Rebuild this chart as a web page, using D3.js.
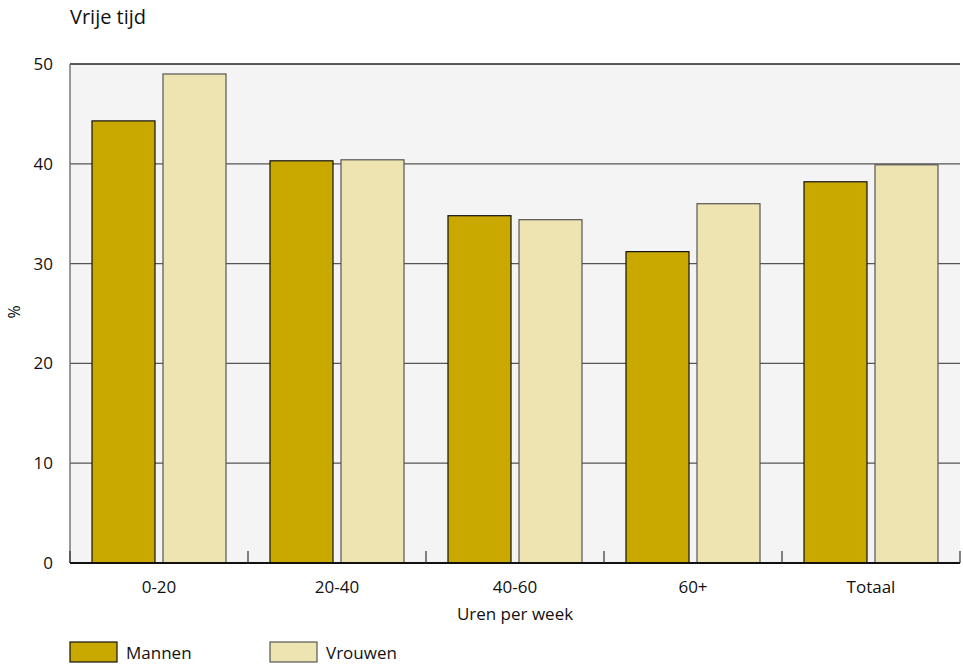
<!DOCTYPE html>
<html><head><meta charset="utf-8">
<script src="https://cdn.jsdelivr.net/npm/d3@7"></script>
<style>body{margin:0;background:#fff;} text{font-family:"Open Sans","Noto Sans",sans-serif;fill:#111;}</style>
</head><body>
<svg id="c" width="963" height="665"></svg>
<script>
const categories = ["0-20","20-40","40-60","60+","Totaal"];
const seriesNames = ["Mannen","Vrouwen"];
const mannen = [44.3, 40.3, 34.8, 31.2, 38.2];
const vrouwen = [49.0, 40.4, 34.4, 36.0, 39.9];
const yTicks = [0,10,20,30,40,50];
const colors = ["#C9A800","#EEE4B2"];
const strokes = ["#111","#555"];

const svg = d3.select("#c");
const L=70, R=960, T=64, B=563;
const x = d3.scaleBand().domain(categories).range([L,R]).paddingInner(0).paddingOuter(0);
const bw = x.bandwidth();
const barW = 63, outer = 22, gap = 8;
const y = d3.scaleLinear().domain([0,50]).range([B,T]);

svg.append("rect").attr("x",L).attr("y",T).attr("width",R-L).attr("height",B-T).attr("fill","#F4F4F4");

// gridlines
svg.append("g").selectAll("line").data(yTicks.filter(d=>d>0&&d<50)).join("line")
  .attr("x1",L).attr("x2",R).attr("y1",d=>y(d)).attr("y2",d=>y(d))
  .attr("stroke","#555").attr("stroke-width",1.2);
svg.append("line").attr("x1",L).attr("x2",R).attr("y1",y(50)).attr("y2",y(50)).attr("stroke","#222").attr("stroke-width",1.5);

// left axis line
svg.append("line").attr("x1",L).attr("x2",L).attr("y1",T).attr("y2",B).attr("stroke","#777").attr("stroke-width",1.5);

// bars
const data = [mannen, vrouwen];
data.forEach((vals,si)=>{
  svg.append("g").selectAll("rect").data(vals).join("rect")
    .attr("x",(d,i)=>x(categories[i]) + outer + si*(barW+gap))
    .attr("y",d=>y(d)).attr("width",barW).attr("height",d=>B-y(d))
    .attr("fill",colors[si]).attr("stroke",strokes[si]).attr("stroke-width",1.2);
});

// bottom axis
svg.append("line").attr("x1",L).attr("x2",R).attr("y1",B).attr("y2",B).attr("stroke","#111").attr("stroke-width",2);
const bounds = categories.map(c=>x(c)).concat([R]);
svg.append("g").selectAll("line").data(bounds).join("line")
  .attr("x1",d=>d).attr("x2",d=>d).attr("y1",B).attr("y2",B-12).attr("stroke","#333").attr("stroke-width",1.2);

// y labels
svg.append("g").selectAll("text").data(yTicks).join("text")
  .attr("x",53).attr("y",d=>y(d)+6).attr("text-anchor","end").attr("font-size",17).text(d=>d);
// x labels
svg.append("g").selectAll("text").data(categories).join("text")
  .attr("x",d=>x(d)+bw/2).attr("y",593).attr("text-anchor","middle").attr("font-size",17).text(d=>d);

svg.append("text").attr("x",(L+R)/2).attr("y",620).attr("text-anchor","middle").attr("font-size",17).text("Uren per week");
svg.append("text").attr("transform","translate(20,312) rotate(-90)").attr("text-anchor","middle").attr("font-size",16).text("%");
svg.append("text").attr("x",70).attr("y",24).attr("font-size",20).text("Vrije tijd");

// legend
const lx = [70,270];
seriesNames.forEach((n,i)=>{
  svg.append("rect").attr("x",lx[i]).attr("y",642).attr("width",47).attr("height",20)
    .attr("fill",colors[i]).attr("stroke",strokes[i]).attr("stroke-width",1.2);
  svg.append("text").attr("x",lx[i]+56).attr("y",659).attr("font-size",17).text(n);
});
</script>
</body></html>
